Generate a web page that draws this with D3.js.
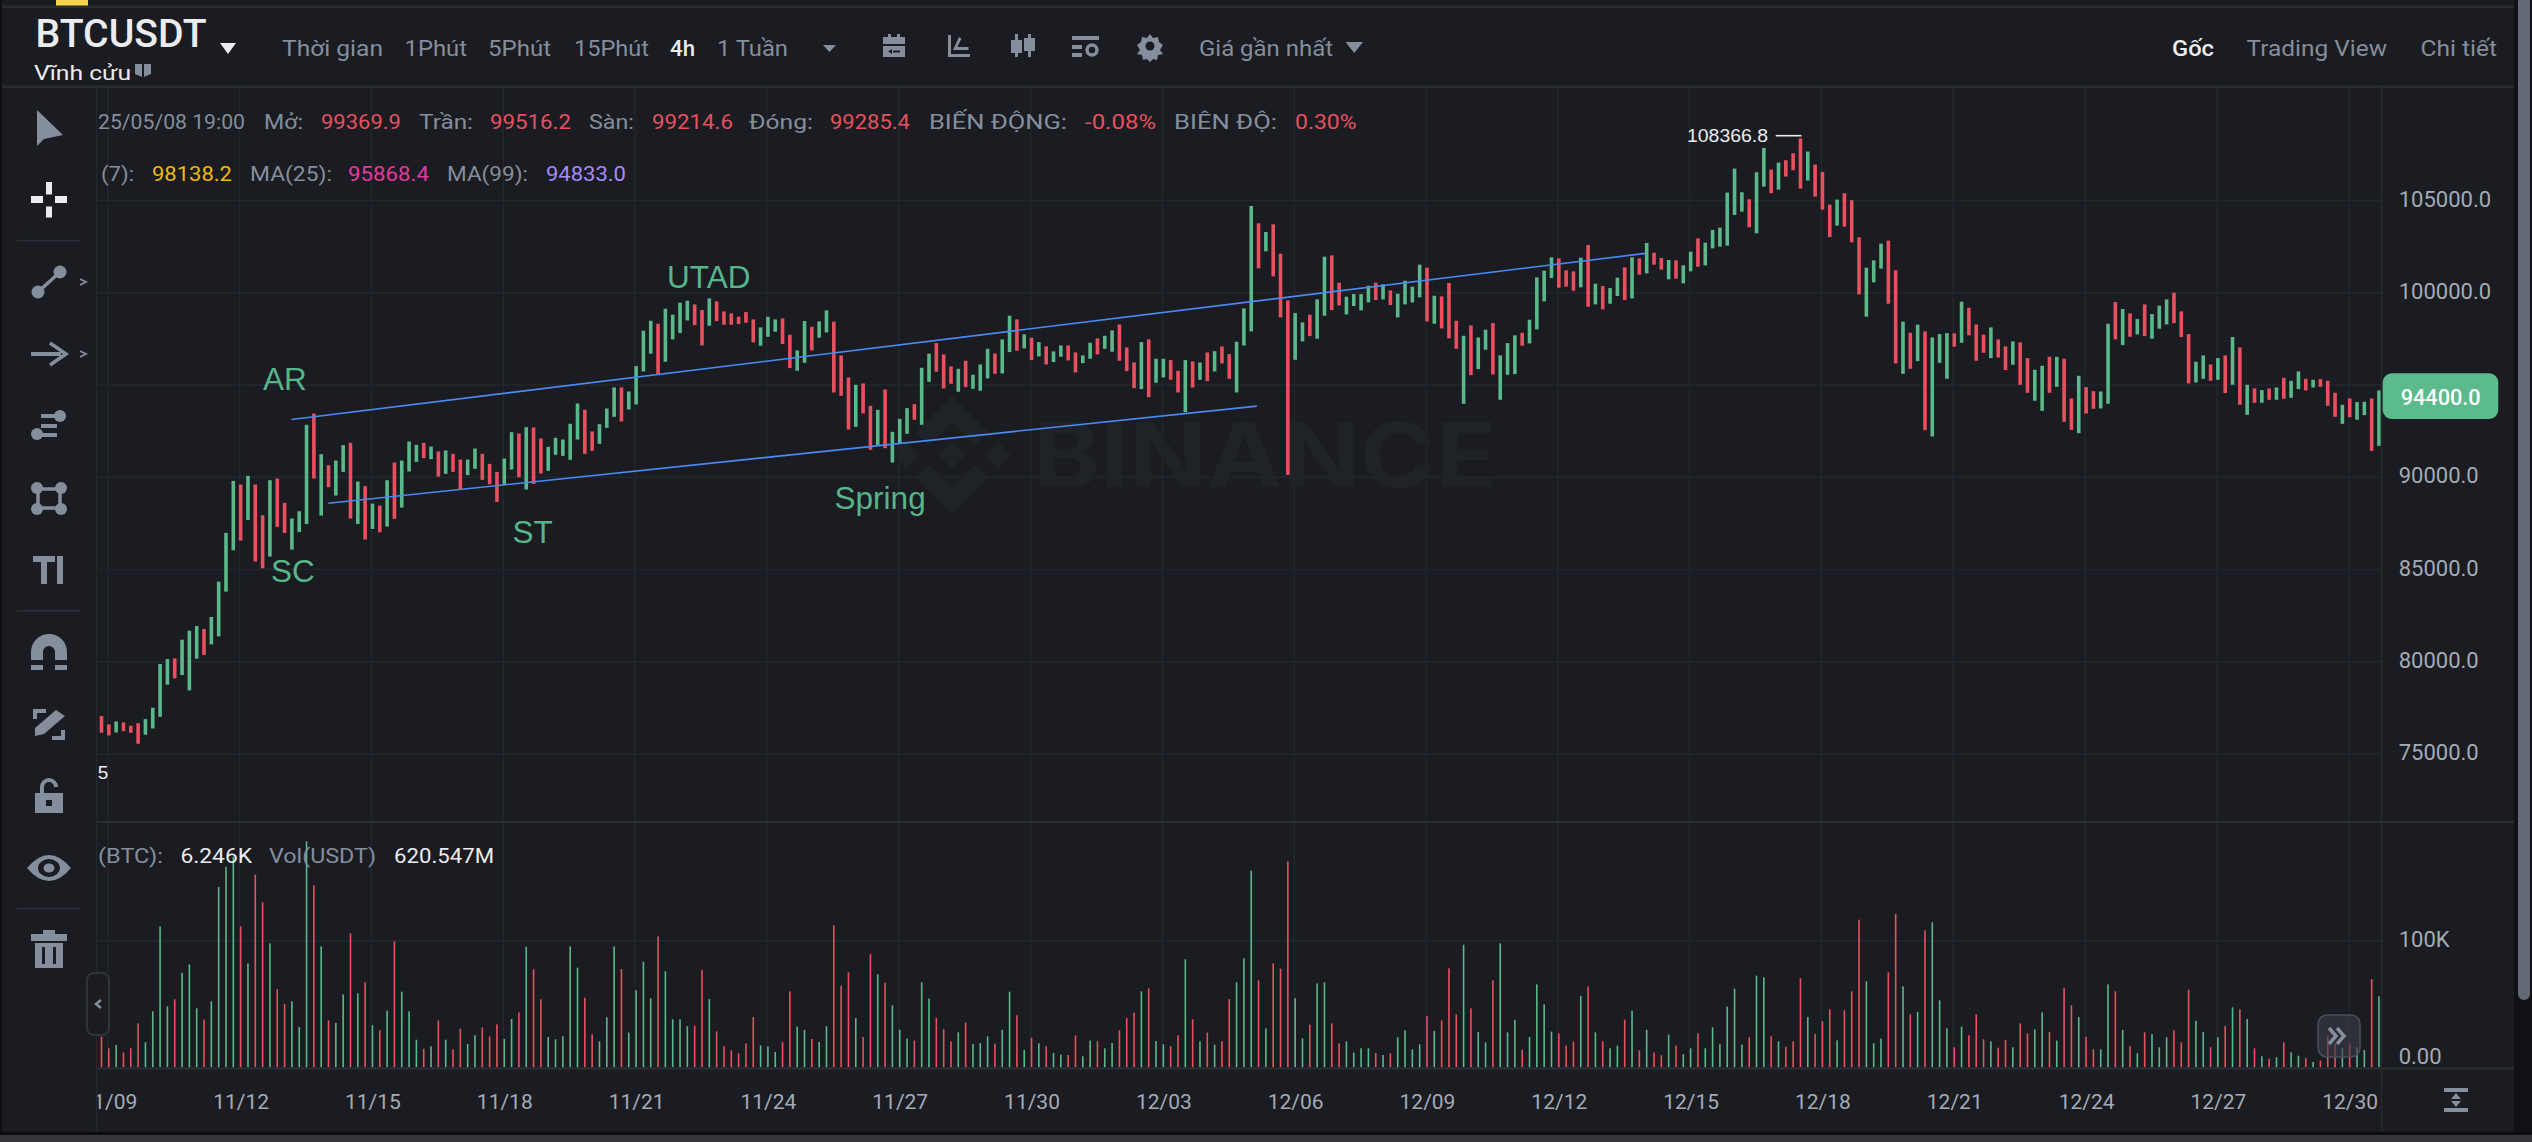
<!DOCTYPE html>
<html><head><meta charset="utf-8">
<script src="https://cdn.jsdelivr.net/npm/d3@7"></script>
<style>html,body{margin:0;padding:0;background:#181a20;overflow:hidden}svg{display:block}text{font-family:Roboto,sans-serif}</style>
</head><body><svg id="c" width="2532" height="1142"></svg>
<script>
const candleHigh=[77050,76597,76760,76706,76525,76670,76887,77502,79871,80142,80179,81191,81680,81933,81770,82421,84339,86979,89801,89602,90072,89602,87938,89837,89928,88607,87757,88155,92840,93454,91248,90651,90904,91736,91863,89765,89512,88571,88462,89837,90796,90904,91935,91754,91863,91664,91393,91447,91266,90958,90958,91555,91266,90723,90289,91013,92442,92369,92713,92695,92098,91646,92134,92044,92894,93997,93653,92478,92876,93726,94865,94865,94648,96023,
97940,98482,98320,99133,98808,99459,99568,99369,99061,99694,99531,98989,98880,98699,98953,98555,98121,98699,98555,98609,97723,96873,98464,98157,98446,99043,98428,96601,95408,95010,95082,93870,93653,94756,92459,93165,93744,93961,95932,96692,97271,96656,96004,95878,96312,95552,96113,96963,96710,97469,98754,98555,97741,97560,97325,97090,96818,97144,97144,96764,96601,97289,97524,97668,97958,98283,97035,96221,97325,97469,96420,96420,96348,95769,
96348,96275,96221,96764,96836,97089,96673,97342,99151,104704,103763,103293,103709,102117,99585,98898,98391,98807,99639,101955,102027,100544,99784,99929,99929,100381,100544,100453,100128,99947,100652,100327,101521,101358,99838,99802,100526,98482,97668,98229,97578,97994,98355,96601,97270,97686,97831,98536,100833,101195,101918,101864,101213,101159,101900,102588,100490,100363,100254,100815,101376,101918,101864,102696,102172,101882,101774,101756,101484,102226,102949,102714,103402,103528,
105428,106730,105446,105066,106531,107852,106676,107056,107182,107562,108366.8,107653,106947,106549,104777,105048,105392,105012,103004,101358,101756,102661,102824,101214,98428,97831,98266,97904,97578,97759,97813,97795,99514,99188,98284,97723,98121,97470,97090,97361,97307,96457,95824,96041,96529,96529,96421,94268,95498,94883,94666,94648,98320,99496,99116,98881,98573,99369,98844,99297,99640,100002,98989,97759,96258,96602,96113,96457,96602,97596,97036,95010,94811,
94720,94811,94865,95390,95227,95733,95335,95281,95317,95227,94576,93925,94268,94069,94087,94268,94702];
const candleLow=[76145,76000,76163,76236,76145,75548,76037,76380,77013,78750,79093,79274,78442,80161,80359,80938,81372,83796,86039,86563,87685,85424,85062,85695,87305,86979,86075,87034,87468,89928,87920,89457,89005,90289,87757,87468,86618,87196,87016,87323,87739,88354,90307,90832,91031,90977,90036,90181,90289,89349,90108,90452,89855,89620,88661,89584,90416,90000,89331,89638,90199,90344,91212,91157,90940,92044,91266,91429,91809,92677,93274,93020,93672,93943,
95733,96692,95588,96258,97469,97813,98500,98247,97144,98211,98464,98265,98265,98301,98374,97307,97126,97614,97885,97216,95914,95769,96203,96873,97560,97849,94594,94413,92586,92731,93454,91483,91718,91573,90795,91826,92351,93110,92839,95172,95715,94811,95064,94630,94883,94793,94684,95353,95607,95625,96782,96855,96981,96348,96547,96113,96240,96529,96330,95679,96185,96420,96656,96963,96800,96312,95751,94829,94774,94340,95118,95408,95281,94594,
93526,94864,95280,95208,95733,96167,95335,94593,97143,97903,101322,102244,100887,98663,90126,96366,97361,97650,97505,98753,99061,99314,98826,99278,99043,99477,99603,99639,99332,98663,99368,99477,99748,98446,98319,98066,97523,96963,93978,95534,95859,96908,95570,94195,95552,95588,97125,97252,98012,99531,100797,100273,100327,100110,100291,99242,99368,99097,99404,99820,99603,99694,100978,101050,101521,101249,100725,100761,100508,101159,101412,101484,102407,102497,
102552,104216,104397,103547,103221,105754,105392,105591,106296,106640,105645,106079,105211,104506,103022,103637,103583,102733,99911,98700,100563,101304,99405,96167,95607,95878,96294,92550,92206,96204,95335,97072,97289,97687,96312,96746,96457,96493,95806,96095,95010,94576,94142,93599,94576,94901,93002,92568,92387,93454,93708,93726,93979,97470,97162,97614,97741,97651,97506,98049,98284,98356,97596,95082,95137,95335,95227,95281,94558,95010,93925,93382,94033,
94033,94196,94196,94250,94304,94775,94702,94865,94901,93870,93273,92894,93255,93111,93364,91429,91700];
const candleUp=[0,0,1,0,0,0,1,1,1,1,0,1,1,1,0,1,1,1,1,0,1,0,0,1,0,0,1,1,1,0,1,0,1,1,0,1,0,1,0,1,0,1,1,1,0,1,0,1,0,0,1,1,0,0,0,1,1,0,1,0,0,1,1,1,1,1,0,0,1,1,1,0,1,1,1,1,0,1,1,1,1,0,0,1,0,0,0,0,0,0,1,1,1,0,0,1,1,0,1,1,0,0,0,1,0,0,1,0,1,1,1,0,1,1,0,0,0,1,0,1,1,1,0,1,1,0,1,0,1,0,1,1,0,0,1,1,0,1,1,0,0,0,1,0,1,1,0,0,1,0,1,0,1,0,0,1,1,1,0,1,0,0,0,1,1,0,1,1,0,0,1,1,1,1,0,1,0,1,1,1,1,0,1,0,0,0,1,0,1,1,0,1,1,1,0,1,1,1,1,0,0,0,1,0,1,0,1,1,0,1,0,1,0,0,1,0,1,1,0,1,1,1,1,1,1,0,1,1,0,1,0,0,0,1,0,0,0,1,0,0,0,1,1,1,0,0,1,0,1,0,1,1,1,0,1,0,0,0,1,0,0,1,0,0,1,1,0,1,0,0,1,0,0,1,1,0,1,0,1,0,1,1,1,0,0,0,1,1,0,1,0,1,0,1,0,1,0,1,0,1,1,0,1,0,0,0,1,0,1,1,0,1];
const volumeK=[24.2,15,17.6,11.8,15,34.7,19.7,44.2,111.3,48.2,53.7,74.7,81.3,46.6,37.6,52.1,142.4,158.4,166.3,111.3,82.1,152.1,130.3,97.9,61.8,50,52.1,31.8,178.4,143.9,95.5,37.1,35,57.6,105.8,58.4,67.1,33.2,29.2,44.7,99.5,59.7,44.2,21.8,14.7,16.6,37.1,21.8,14.2,30.5,18.4,25.3,31.6,24.5,33.9,22.4,38.2,43.4,95.3,77.4,53.7,23.9,22.1,24.5,95.5,78.7,55,26.1,20.5,39.5,95.5,77.6,27.4,60.8,83.4,54.5,103.4,75.8,37.9,37.9,32.4,32.9,76.8,53.9,28.4,16.6,13.4,11.1,18.9,39.7,17.4,16.6,12.1,20,60,32.1,29.5,22.4,20,32.4,112.1,64.5,75,38.9,23.9,89.5,73.4,
66.8,48.9,29.7,22.6,21.1,67.1,54.2,39.2,30,20.5,27.6,35.3,18.4,19.2,24.5,18.7,29.7,59.7,41.1,13.7,23.4,18.9,16.6,11.3,10,9.7,25.3,8.7,21.1,20.5,15,19.2,29.2,38.9,43.2,60,62.4,20.8,18.2,16.8,25.3,85.3,37.9,20.5,27.4,17.9,20.5,53.9,67.1,86.1,155.3,68.7,30.8,82.1,77.9,162.6,54.5,22.9,33.7,66.3,67.1,34.7,18.9,20.5,11.6,15,15,11.3,9.7,11.1,23.7,29.2,14.2,18.2,40.5,28.7,37.1,78.2,41.8,96.8,46.6,27.9,19.7,68.7,97.9,27.6,37.4,13.9,23.9,65.5,49.7,28.2,26.8,17.1,20.3,56.3,63.9,27.6,20.5,15,17.1,37.6,44.7,13.4,29.7,11.8,9.5,25.8,
17.1,10.3,15,26.8,15,31.6,18.2,47.9,62.1,17.9,23.7,72.4,71.1,24.5,20.5,16.3,20.5,70.3,39.7,26.3,36.3,45.8,21.3,45,60,116.6,67.9,18.9,22.6,75,121.3,63.9,41.8,43.7,108.2,114.5,52.9,30.8,15.8,32.1,25.3,41.8,22.1,20.5,15.5,21.6,15.8,34.7,26.8,30,43.4,27.9,21.1,62.9,48.9,39.7,24.2,14.2,14.2,65.5,60,29.5,16.6,11.1,27.6,26.3,15.8,23.7,29.2,19.7,61.3,36.8,27.9,15.8,23.7,32.6,47.4,45.8,38.2,15,8.7,6.8,7.9,19.7,11.8,9.2,7.4,4.2,5.3,24.7,18.9,15,18.7,15.8,13.7,69.7,56.1];
const gridPrices=[75000,80000,85000,90000,95000,100000,105000];
const priceLabels=[75000,80000,85000,90000,100000,105000];
const volumeTicks=[0,100];
const dateLabels=['11/09','11/12','11/15','11/18','11/21','11/24','11/27','11/30','12/03','12/06','12/09','12/12','12/15','12/18','12/21','12/24','12/27','12/30'];
const dateIndex=[1,19,37,55,73,91,109,127,145,163,181,199,217,235,253,271,289,307];
const upperLine=[[25.94,93129],[210.8,102135]];
const lowerLine=[[30.96,88589],[157.76,93852]];
const wyckoffLabels=[['AR',263,389.5],['SC',271,581.5],['ST',512.5,543.2],['UTAD',667,287.5],['Spring',834.6,508.8]];

const G='#5ab88a',R='#e8505f',GREY='#848e9c',BG='#1a1c22';
const svg=d3.select('#c');
const defs=svg.append('defs');
defs.append('clipPath').attr('id','plot').append('rect').attr('x',97.5).attr('y',87).attr('width',2284).attr('height',1046);
svg.append('rect').attr('width',2532).attr('height',1142).attr('fill',BG);

const x=d3.scaleLinear().domain([0,311]).range([101.5,2379]);
const y=d3.scaleLinear().domain([75000,105000]).range([753.9,200.5]);
const yv=d3.scaleLinear().domain([0,100]).range([1067.3,940.7]);

function T(p,px,py,s,o={}){const t=p.append('text').attr('x',px).attr('y',py).text(s)
 .attr('font-size',o.size||21).attr('fill',o.fill||GREY).attr('font-weight',o.weight||400);
 if(o.anchor)t.attr('text-anchor',o.anchor);
 if(o.family)t.style('font-family',o.family);
 if(o.w)t.attr('textLength',o.w).attr('lengthAdjust','spacingAndGlyphs');return t;}

// grid
const grid=svg.append('g').attr('stroke','#23262c').attr('stroke-width',1.5);
grid.selectAll('.h').data(gridPrices).join('line').attr('x1',97).attr('x2',2381).attr('y1',d=>y(d)).attr('y2',d=>y(d));
grid.append('line').attr('x1',97).attr('x2',2381).attr('y1',yv(100)).attr('y2',yv(100));
grid.selectAll('.v').data(dateIndex).join('line').attr('x1',d=>x(d)-1).attr('x2',d=>x(d)-1).attr('y1',88).attr('y2',1067);

// watermark
svg.append('path').attr('transform','translate(893,396) scale(0.932)').attr('fill','#1f2227')
 .attr('d','M38.73 53.2l24.59-24.58 24.6 24.6 14.3-14.31L63.32 0 24.43 38.9zM0 63.31l14.3-14.31 14.31 14.31-14.31 14.3zM38.73 73.41l24.59 24.59 24.6-24.6 14.31 14.29-38.9 38.91-38.91-38.88-.02-.02zM98 63.31l14.3-14.31 14.31 14.3-14.31 14.32zM77.83 63.3L63.32 48.78 52.59 59.51l-1.24 1.23-2.54 2.54 14.51 14.5 14.51-14.47z');
T(svg,1033,486.7,'BINANCE',{size:90,fill:'#1f2227',weight:700,w:464,family:'Inter,Roboto,sans-serif'});

// candles + volume
const plot=svg.append('g').attr('clip-path','url(#plot)');
const idx=d3.range(candleHigh.length);
plot.selectAll('.c').data(idx).join('rect').attr('x',i=>x(i)-1.8).attr('width',3.6)
 .attr('y',i=>y(candleHigh[i])).attr('height',i=>y(candleLow[i])-y(candleHigh[i])).attr('fill',i=>candleUp[i]?G:R);
plot.selectAll('.v').data(idx).join('rect').attr('x',i=>x(i)-0.8).attr('width',1.6)
 .attr('y',i=>yv(volumeK[i])).attr('height',i=>yv(0)-yv(volumeK[i])).attr('fill',i=>candleUp[i]?G:R);

// trend lines
const ln=d3.line().x(d=>x(d[0])).y(d=>y(d[1]));
[upperLine,lowerLine].forEach(l=>svg.append('path').attr('d',ln(l)).attr('fill','none').attr('stroke','#4a8af4').attr('stroke-width',1.6));
wyckoffLabels.forEach(l=>T(svg,l[1],l[2],l[0],{size:31.5,fill:'#57b58a',family:'"Liberation Sans",Arial,sans-serif'}));

// high marker
T(svg,1687,142.3,'108366.8',{size:19,fill:'#eaecef',family:'"Liberation Sans",Arial,sans-serif',w:81});
svg.append('line').attr('x1',1775.7).attr('x2',x(232)+1).attr('y1',135.7).attr('y2',135.7).attr('stroke','#eaecef').attr('stroke-width',1.6);
T(svg,97.7,779,'5',{size:19,fill:'#eaecef',family:'"Liberation Sans",Arial,sans-serif'});

// frame lines
const fr=svg.append('g').attr('stroke','#2a2e33').attr('stroke-width',2.5);
fr.append('line').attr('x1',0).attr('x2',2515).attr('y1',6.7).attr('y2',6.7);
fr.append('line').attr('x1',0).attr('x2',2515).attr('y1',86.7).attr('y2',86.7);
fr.append('line').attr('x1',96.5).attr('x2',96.5).attr('y1',87).attr('y2',1133).attr('stroke-width',1.5).attr('stroke','#23282d');
fr.append('line').attr('x1',2381.7).attr('x2',2381.7).attr('y1',87).attr('y2',1131).attr('stroke-width',2).attr('stroke','#23282d');
fr.append('line').attr('x1',97).attr('x2',2514).attr('y1',822).attr('y2',822).attr('stroke-width',2);
fr.append('line').attr('x1',97).attr('x2',2514).attr('y1',1068.5).attr('y2',1068.5).attr('stroke-width',2);

// axes
const ax=d3.axisRight(y).tickValues(priceLabels).tickSize(0).tickPadding(17).tickFormat(d=>d.toFixed(1));
const gy=svg.append('g').attr('transform','translate(2381.7,0)').call(ax);
gy.select('.domain').remove();
gy.selectAll('text').attr('font-size',22).attr('fill','#a4abb5').attr('dy','5.6').style('font-family','Roboto,sans-serif');
const axv=d3.axisRight(yv).tickValues(volumeTicks).tickSize(0).tickPadding(17).tickFormat(d=>d?d+'K':'0.00');
const gv=svg.append('g').attr('transform','translate(2381.7,0)').call(axv);
gv.select('.domain').remove();
gv.selectAll('text').attr('font-size',22).attr('fill','#a4abb5').attr('dy','6').style('font-family','Roboto,sans-serif');
gv.selectAll('.tick').filter(d=>d===0).select('text').attr('dy','-3.8');
const axx=d3.axisBottom(x).tickValues(dateIndex).tickSize(0).tickPadding(0).tickFormat((d,i)=>dateLabels[i]);
const gx=svg.append('g').attr('clip-path','url(#plot)').append('g').attr('transform','translate(0,1068)').call(axx);
gx.select('.domain').remove();
gx.selectAll('text').attr('font-size',21).attr('fill','#a4abb5').attr('y',41).attr('dy',0).style('font-family','Roboto,sans-serif');

// price tag
svg.append('rect').attr('x',2382.7).attr('y',373.3).attr('width',115.6).attr('height',45.7).attr('rx',9).attr('fill','#5cbb8c');
T(svg,2400.7,405,'94400.0',{size:22.5,fill:'#fff',weight:500,w:80});

// info rows
T(svg,98,129.3,'25/05/08 19:00',{size:20.5,w:147});
const row1=[[264,39,'Mở:',GREY],[321,80,'99369.9',R],[419,54,'Trần:',GREY],[490,81,'99516.2',R],[589,45,'Sàn:',GREY],[652,81,'99214.6',R],[749,64,'Đóng:',GREY],[830,80,'99285.4',R],[929,138,'BIẾN ĐỘNG:',GREY],[1085,71,'-0.08%',R],[1174,103,'BIÊN ĐỘ:',GREY],[1295,61.6,'0.30%',R]];
row1.forEach(r=>T(svg,r[0],129.3,r[2],{size:20.5,fill:r[3],w:r[1]}));
T(svg,101,181,'(7):',{size:20.5,w:33});
const row2=[[152,80,'98138.2','#f0b90b'],[250,82,'MA(25):',GREY],[348,81,'95868.4','#e5399f'],[447,81,'MA(99):',GREY],[546,80,'94833.0','#a78bfa']];
row2.forEach(r=>T(svg,r[0],181,r[2],{size:20.5,fill:r[3],w:r[1]}));
T(svg,98,862.7,'(BTC):',{size:20.5,w:65});
T(svg,180.5,862.7,'6.246K',{size:20.5,fill:'#eaecef',w:71.5});
T(svg,269,862.7,'Vol(USDT)',{size:20.5,w:107});
T(svg,394,862.7,'620.547M',{size:20.5,fill:'#eaecef',w:100});

// header
svg.append('rect').attr('x',56).attr('y',0).attr('width',32).attr('height',5.5).attr('fill','#f5d64e');
T(svg,35.5,47,'BTCUSDT',{size:38,fill:'#eaecef',weight:500,w:171});
const tri=(a,b,t,h,f)=>svg.append('path').attr('d',`M${a},${t}H${b}L${(a+b)/2},${h}Z`).attr('fill',f);
tri(220,236,43,54,'#eaecef');
T(svg,34,80,'Vĩnh cửu',{size:21,fill:'#eaecef',w:97});
svg.append('path').attr('d','M135,64h7v13l-7,-3zM144,64h7v10l-7,3z').attr('fill',GREY);
const tabs=[[282,101,'Thời gian',GREY],[404.5,62.5,'1Phút',GREY],[488,63,'5Phút',GREY],[574,75,'15Phút',GREY],[670,25,'4h','#eaecef'],[717,71,'1 Tuần',GREY],[1199,134,'Giá gần nhất',GREY],[2172,42,'Gốc','#eaecef'],[2246.5,140.5,'Trading View',GREY],[2420.5,76.5,'Chi tiết',GREY]];
tabs.forEach(r=>T(svg,r[0],56,r[2],{size:22,fill:r[3],w:r[1],weight:r[2]==='Gốc'||r[2]==='4h'?500:400}));
tri(823,836,45,52,GREY);tri(1345.5,1363,42,53,GREY);
const hi=svg.append('g').attr('fill',GREY);
hi.append('path').attr('d','M883,37h5v-3h3v3h6v-3h3v3h5v7h-22zM883,46h22v11h-22zM892,49l-4,2.5 4,2.5zM893,50.5h7v2h-7z').attr('fill-rule','evenodd');
hi.append('path').attr('d','M948,35h3v19h19v3h-22zM953,50l6,-13 2.5,1.500 -4,8.500h11v3z');
hi.append('path').attr('d','M1015,34h3v23h-3zM1011,40h11v13h-11zM1028,34h3v23h-3zM1024,38h11v13h-11z');
hi.append('path').attr('d','M1072,36h27v4h-27zM1072,45h10v4h-10zM1072,53h10v4h-10z');
hi.append('circle').attr('cx',1092).attr('cy',50).attr('r',5).attr('fill','none').attr('stroke',GREY).attr('stroke-width',3.5);
hi.append('path').attr('d','M1150,34l3,4 5,-1 1,5 4,3 -3,5 3,4 -5,1 -1,5 -4,-1 -3,3 -3,-3 -4,1 -1,-5 -5,-1 3,-4 -3,-5 4,-3 1,-5 5,1z');
hi.append('circle').attr('cx',1150).attr('cy',46).attr('r',4.5).attr('fill',BG);

// sidebar
const s=svg.append('g').attr('fill',GREY);
s.append('path').attr('d','M37,110L63,135 44,139 37,146Z');
svg.append('g').attr('fill','#eaecef').selectAll('rect').data([[46,182,6,12.5],[46,206.5,6,11],[31,196,12,7],[55,196,12,7]]).join('rect')
 .attr('x',d=>d[0]).attr('y',d=>d[1]).attr('width',d=>d[2]).attr('height',d=>d[3]);
[240.4,610.7,908.6].forEach(v=>svg.append('line').attr('x1',17).attr('x2',81).attr('y1',v).attr('y2',v).attr('stroke','#2b3139').attr('stroke-width',1.5));
s.append('circle').attr('cx',38).attr('cy',292).attr('r',6.5);s.append('circle').attr('cx',60).attr('cy',272).attr('r',6.5);
s.append('line').attr('x1',38).attr('y1',292).attr('x2',60).attr('y2',272).attr('stroke',GREY).attr('stroke-width',3.5);
s.append('path').attr('d','M31,352h30v4h-30z');
s.append('path').attr('d','M50,343L66,354 50,365').attr('fill','none').attr('stroke',GREY).attr('stroke-width',3.5);
['M80,279l6,3 -6,3','M80,351l6,3 -6,3'].forEach(d=>s.append('path').attr('d',d).attr('fill','none').attr('stroke',GREY).attr('stroke-width',1.8));
s.append('circle').attr('cx',37).attr('cy',434).attr('r',6);s.append('circle').attr('cx',60).attr('cy',416).attr('r',6);
s.append('path').attr('d','M41,414h16v4h-16zM41,424h16v4h-16zM41,433h16v4h-16z');
[[37,488],[61,488],[37,509],[61,509]].forEach(p=>s.append('circle').attr('cx',p[0]).attr('cy',p[1]).attr('r',6));
s.append('rect').attr('x',38).attr('y',489).attr('width',22).attr('height',19).attr('fill','none').attr('stroke',GREY).attr('stroke-width',3.5);
s.append('path').attr('d','M33,556h22v6h-8v22h-6v-22h-8zM57,556h6v28h-6z');
s.append('path').attr('d','M37,660v-8a12,12 0 0 1 24,0v8').attr('fill','none').attr('stroke',GREY).attr('stroke-width',12);
s.append('path').attr('d','M31,665h12v5h-12zM55,665h12v5h-12z');
s.append('path').attr('d','M33,709h13v4h-9v6h-4zM65,740h-13v-4h9v-6h4z');
s.append('path').attr('d','M35,728L56,710 65,716 44,734 35,736Z');
s.append('path').attr('d','M35,793h28v20h-28z');
s.append('path').attr('d','M42,793v-6a7,7 0 0 1 14,0').attr('fill','none').attr('stroke',GREY).attr('stroke-width',4);
s.append('rect').attr('x',46).attr('y',800).attr('width',6).attr('height',6).attr('fill',BG);
s.append('path').attr('d','M27,868Q49,842 71,868Q49,894 27,868Z');
s.append('ellipse').attr('cx',49).attr('cy',868).attr('rx',11).attr('ry',9).attr('fill',BG);
s.append('ellipse').attr('cx',49).attr('cy',868).attr('rx',5.500).attr('ry',4.500);
s.append('path').attr('d','M43,934v-4h12v4h12v7h-36v-7zM35,943h28v25h-28z');
s.append('path').attr('d','M42,947h3v17h-3zM53,947h3v17h-3z').attr('fill',BG);

// handles
svg.append('rect').attr('x',87).attr('y',973).attr('width',22).attr('height',62).attr('rx',7).attr('fill',BG).attr('stroke','#2f343b').attr('stroke-width',2);
svg.append('path').attr('d','M101,1000l-5,4 5,4').attr('fill','none').attr('stroke',GREY).attr('stroke-width',2.5);
svg.append('rect').attr('x',2318).attr('y',1015).attr('width',42).attr('height',42).attr('rx',9).attr('fill','#3a3e46').attr('fill-opacity',.62).attr('stroke','#4a4e56').attr('stroke-width',1.5);
svg.append('path').attr('d','M2329,1028l7,8 -7,8M2337,1028l7,8 -7,8').attr('fill','none').attr('stroke',GREY).attr('stroke-width',3.5);
svg.append('path').attr('fill',GREY).attr('d','M2444,1088h24v4h-24zM2444,1108h24v4h-24zM2456,1093l5,6h-10zM2456,1107l5,-6h-10z');

// window edges
svg.append('rect').attr('x',2514).attr('y',0).attr('width',18).attr('height',1142).attr('fill','#101114');
svg.append('rect').attr('x',2518).attr('y',-10).attr('width',12).attr('height',1010).attr('rx',6).attr('fill','#646977');
svg.append('rect').attr('x',0).attr('y',0).attr('width',2).attr('height',1142).attr('fill','#0e0f12');
svg.append('rect').attr('x',0).attr('y',1132).attr('width',2532).attr('height',3).attr('fill','#0c0d10');
svg.append('rect').attr('x',0).attr('y',1135).attr('width',2532).attr('height',7).attr('fill','#34363a');
</script></body></html>
